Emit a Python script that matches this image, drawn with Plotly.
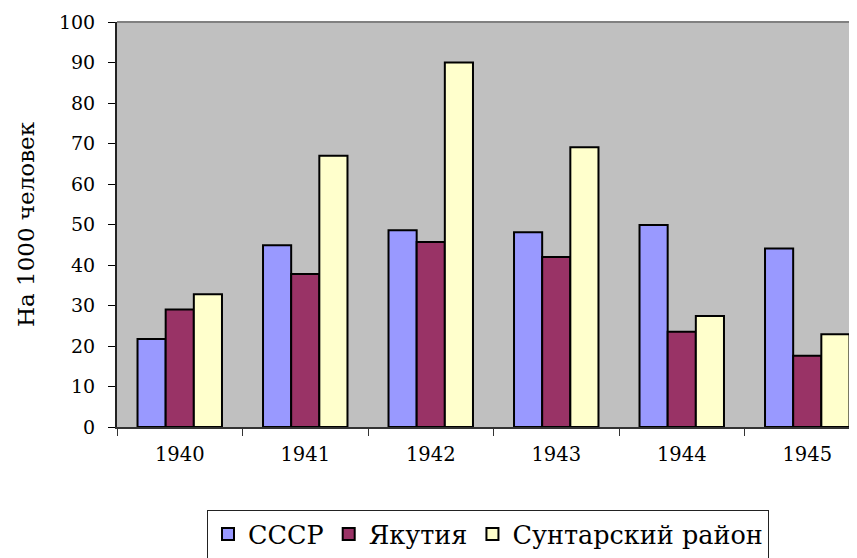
import plotly.graph_objects as go

years = ["1940", "1941", "1942", "1943", "1944", "1945"]
series_names = ["СССР", "Якутия", "Сунтарский район"]
ussr = [21.7, 44.9, 48.6, 48.1, 49.9, 44.1]
yakutia = [29.0, 37.8, 45.7, 42.0, 23.5, 17.6]
suntar = [32.8, 67.0, 90.0, 69.1, 27.4, 22.9]
colors = ["#9999FF", "#993366", "#FFFFCC"]
y_ticks = [0, 10, 20, 30, 40, 50, 60, 70, 80, 90, 100]

FONT = "DejaVu Serif"

fig = go.Figure()
for name, vals, col in zip(series_names, [ussr, yakutia, suntar], colors):
    fig.add_trace(go.Bar(
        x=years, y=vals, name=name,
        marker=dict(color=col, line=dict(color="black", width=2)),
    ))

# page offset of 8px (body margin) compensated
OFF = 8
W, H = 857, 558
L, T = 117 - OFF, 22 - OFF
R = OFF
B = H - (427 - OFF)
plot_w = W - L - R
cat_px = 125.5

fig.update_layout(
    width=W, height=H,
    margin=dict(l=L, r=R, t=T, b=B, autoexpand=False),
    paper_bgcolor="white",
    plot_bgcolor="#C0C0C0",
    barmode="group",
    bargap=0.327,
    bargroupgap=0,
    font=dict(family=FONT, color="black", size=19),
    showlegend=True,
    legend=dict(
        orientation="h",
        xref="container", yref="container",
        x=(207 - OFF) / W, y=1 - (510 - OFF) / H,
        xanchor="left", yanchor="top",
        bgcolor="white",
        bordercolor="#222222", borderwidth=1,
        font=dict(family=FONT, size=25.5, color="black"),
        traceorder="normal",
    ),
    xaxis=dict(
        type="category",
        automargin=False,
        range=[-0.5, -0.5 + plot_w / cat_px],
        tickson="boundaries",
        ticks="outside", ticklen=7, tickcolor="#333333", tickwidth=1,
        showline=True, linecolor="#333333", linewidth=1.5,
        showgrid=False,
        ticklabelstandoff=9,
        tickfont=dict(family=FONT, size=19.5),
    ),
    yaxis=dict(
        automargin=False,
        range=[0, 100],
        tickvals=y_ticks,
        ticks="outside", ticklen=7, tickcolor="black", tickwidth=1,
        showline=True, linecolor="#222222", linewidth=2,
        showgrid=False, zeroline=False,
        ticklabelstandoff=9,
        tickfont=dict(family=FONT, size=19),
        title=dict(text="На 1000 человек", font=dict(family=FONT, size=23), standoff=18),
    ),
    shapes=[dict(type="line", xref="paper", yref="paper", x0=0, x1=1, y0=1, y1=1,
                 line=dict(color="#808080", width=2))],
)

fig.write_html("out.html")
